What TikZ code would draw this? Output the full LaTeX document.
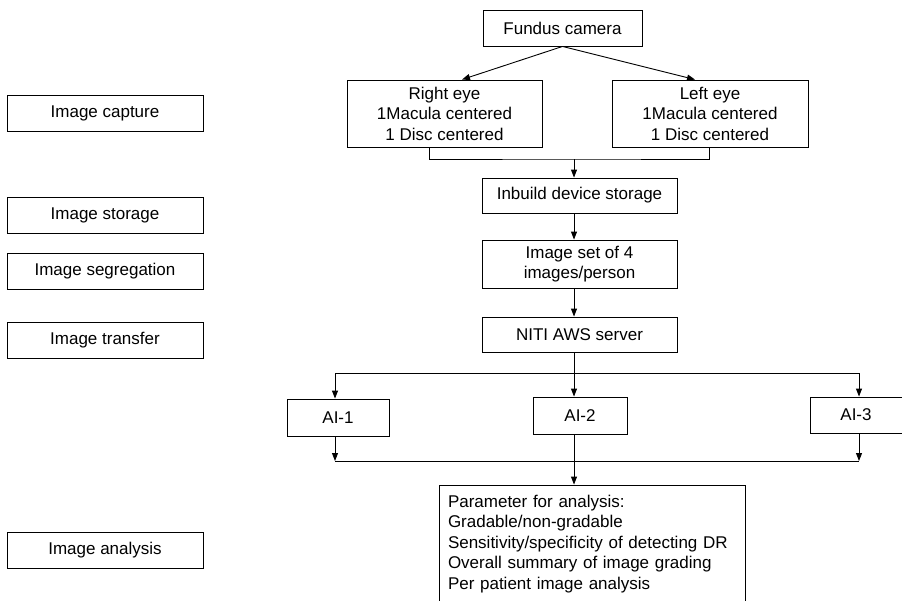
\documentclass[tikz,border=0pt]{standalone}
\usepackage{fontspec}
\setmainfont{Liberation Sans}
\usetikzlibrary{arrows.meta}
\begin{document}
\begin{tikzpicture}[x=1pt,y=-1pt,
  box/.style={draw, line width=0.9pt, inner sep=0pt, align=center,
    font=\fontsize{17}{20.5}\selectfont},
  stage/.style={box, minimum width=196pt, minimum height=36pt},
  arr/.style={line width=0.9pt, -{Triangle[width=6pt,length=8pt]}},
  ln/.style={line width=0.9pt}]
\useasboundingbox (0,0) rectangle (902,600);

% stage labels on the left
\node[stage] (lcap)   at (105,113) {Image capture};
\node[stage] (lstor)  at (105,215) {Image storage};
\node[stage] (lseg)   at (105,271) {Image segregation};
\node[stage] (ltrans) at (105,340) {Image transfer};
\node[stage] (lanal)  at (105,550) {Image analysis};

% main flow
\node[box, minimum width=159pt, minimum height=36pt] (cam) at (562.5,28) {Fundus camera};
\node[box, minimum width=195pt, minimum height=67pt] (reye) at (444.5,113.5)
  {Right eye\\1Macula centered\\ 1 Disc centered};
\node[box, minimum width=196pt, minimum height=67pt] (leye) at (710,113.5)
  {Left eye\\1Macula centered\\ 1 Disc centered};
\node[box, minimum width=195pt, minimum height=35pt] (store) at (579.5,195.5) {Inbuild device storage};
\node[box, minimum width=195pt, minimum height=48pt] (set) at (579.5,264) {Image set of 4\\images/person};
\node[box, minimum width=195pt, minimum height=35pt] (niti) at (579.5,334.5) {NITI AWS server};

\node[box, minimum width=102pt, minimum height=37pt] (ai1) at (338,417.5) {AI-1};
\node[box, minimum width=94pt, minimum height=37pt] (ai2) at (580,415.5) {AI-2};
\node[box, minimum width=92pt, minimum height=36pt] (ai3) at (856,415) {AI-3};

\node[box, align=left, text width=288pt, inner xsep=9pt, minimum height=118pt] (anal) at (592,544)
  {Parameter for analysis:\\Gradable/non-gradable\\Sensitivity/specificity of detecting DR\\Overall summary of image grading\\Per patient image analysis};

% camera to both eyes
\draw[arr] (cam.south) -- ([xshift=17.5pt]reye.north);
\draw[arr] (cam.south) -- ([xshift=-15pt]leye.north);

% joining the eyes into storage
\coordinate (m1) at (574,159);
\draw[ln] ([xshift=-15.5pt]reye.south) |- (m1) -| ([xshift=-1pt]leye.south);
\draw[arr] (m1) -- (m1 |- store.north);
\draw[arr] (m1 |- store.south) -- (m1 |- set.north);
\draw[arr] (m1 |- set.south) -- (m1 |- niti.north);

% fan out to the three AI graders
\coordinate (b)  at (574,373);
\coordinate (bl) at (335,373);
\coordinate (br) at (859,373);
\draw[ln] (b |- niti.south) -- (b);
\draw[ln] (bl) -- (br);
\draw[arr] (bl) -- (bl |- ai1.north);
\draw[arr] (b) -- (b |- ai2.north);
\draw[arr] (br) -- (br |- ai3.north);

% gather the results
\coordinate (cl) at (335,461);
\coordinate (cr) at (859,461);
\draw[ln] (cl) -- (cr);
\draw[arr] (bl |- ai1.south) -- (cl);
\draw[arr] (br |- ai3.south) -- (cr);
\draw[arr] (b |- ai2.south) -- (b |- anal.north);
\end{tikzpicture}
\end{document}
